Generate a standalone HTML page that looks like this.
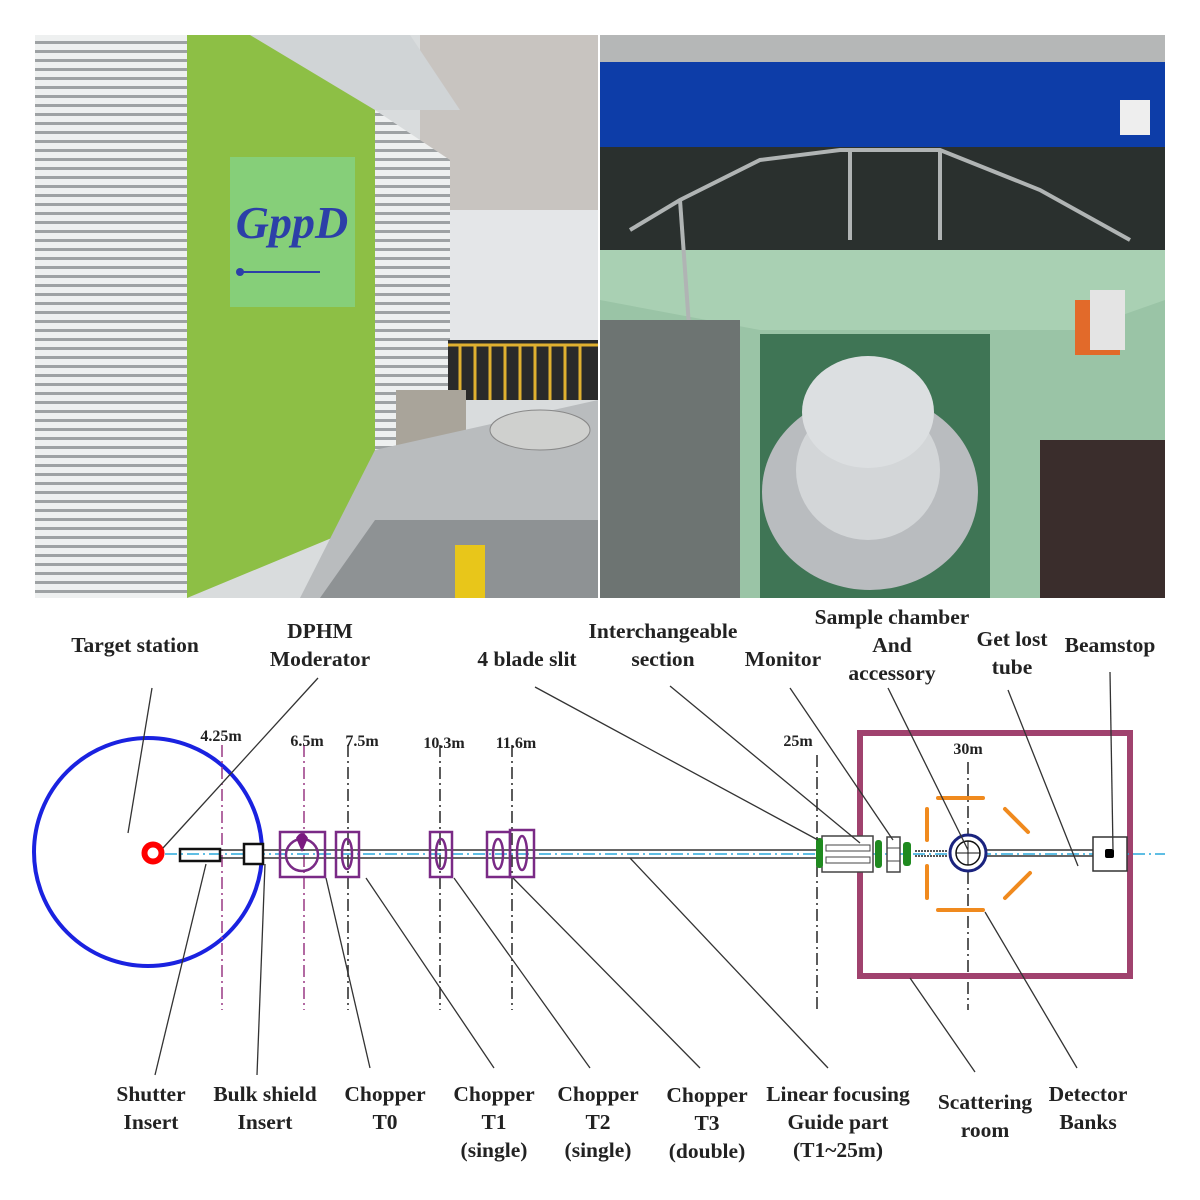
<!DOCTYPE html>
<html><head><meta charset="utf-8"><style>
html,body{margin:0;padding:0;background:#fff;}
svg{display:block}
text{font-family:"Liberation Serif",serif;font-weight:bold;font-size:21.5px;fill:#222;text-anchor:middle}
.s{font-size:16px}
</style></head><body>
<svg width="1200" height="1200" viewBox="0 0 1200 1200" xmlns="http://www.w3.org/2000/svg">
<defs>
<pattern id="lv" width="8" height="9" patternUnits="userSpaceOnUse"><rect width="8" height="9" fill="#eef0f0"/><rect y="5" width="8" height="3" fill="#9ea2a4"/></pattern>
<clipPath id="cl"><rect x="35" y="35" width="563" height="563"/></clipPath>
<clipPath id="cr"><rect x="600" y="35" width="565" height="563"/></clipPath>
</defs>
<g clip-path="url(#cl)">
<rect x="35" y="35" width="563" height="563" fill="#d9dcdd"/>
<rect x="420" y="35" width="178" height="180" fill="#c8c4c0"/>
<rect x="445" y="210" width="153" height="140" fill="#e4e6e8"/>
<rect x="35" y="35" width="152" height="563" fill="url(#lv)"/>
<polygon points="375,110 450,160 450,450 375,500" fill="url(#lv)"/>
<polygon points="187,35 375,35 375,520 187,598" fill="#8dbf45"/>
<polygon points="250,35 410,35 460,110 375,110" fill="#d0d4d6"/>
<rect x="230" y="157" width="125" height="150" fill="#86cf79"/>
<text x="292" y="238" style="font-size:46px;fill:#2c3fa8;font-style:italic">GppD</text>
<line x1="240" y1="272" x2="320" y2="272" stroke="#2c3fa8" stroke-width="2"/>
<circle cx="240" cy="272" r="4" fill="#2c3fa8"/>
<rect x="448" y="340" width="150" height="60" fill="#2a2a2a"/>
<g stroke="#e0b030" stroke-width="3"><line x1="448" y1="345" x2="598" y2="345"/><line x1="460" y1="345" x2="460" y2="400"/><line x1="475" y1="345" x2="475" y2="400"/><line x1="490" y1="345" x2="490" y2="400"/><line x1="505" y1="345" x2="505" y2="400"/><line x1="520" y1="345" x2="520" y2="400"/><line x1="535" y1="345" x2="535" y2="400"/><line x1="550" y1="345" x2="550" y2="400"/><line x1="565" y1="345" x2="565" y2="400"/><line x1="580" y1="345" x2="580" y2="400"/></g>
<rect x="396" y="390" width="70" height="58" fill="#a9a49a"/>
<polygon points="375,450 598,400 598,598 300,598" fill="#b9bcbe"/>
<ellipse cx="540" cy="430" rx="50" ry="20" fill="#cfd0ce" stroke="#888"/>
<polygon points="375,520 598,520 598,598 320,598" fill="#8e9294"/>
<rect x="455" y="545" width="30" height="53" fill="#e8c61a"/>
</g>
<g clip-path="url(#cr)">
<rect x="600" y="35" width="565" height="563" fill="#9ac4a6"/>
<rect x="600" y="35" width="565" height="35" fill="#b5b7b7"/>
<rect x="600" y="62" width="565" height="85" fill="#0d3da8"/>
<rect x="1120" y="100" width="30" height="35" fill="#eee"/>
<rect x="600" y="147" width="565" height="110" fill="#2a302e"/>
<polygon points="600,250 1165,250 1165,300 1080,330 760,330 600,300" fill="#a9d0b3"/>
<g stroke="#b0b4b4" stroke-width="4" fill="none"><path d="M630,230 L680,200 L760,160 L840,150 L940,150 L1040,190 L1130,240"/><line x1="680" y1="200" x2="690" y2="340"/><line x1="850" y1="150" x2="850" y2="240"/><line x1="940" y1="150" x2="940" y2="240"/></g>
<rect x="600" y="320" width="140" height="278" fill="#6d7472"/>
<rect x="760" y="334" width="230" height="264" fill="#3f7555"/>
<ellipse cx="870" cy="492" rx="108" ry="98" fill="#b9bcbf"/>
<ellipse cx="868" cy="470" rx="72" ry="70" fill="#d3d6d8"/>
<ellipse cx="868" cy="412" rx="66" ry="56" fill="#dcdfe1"/>
<rect x="1040" y="440" width="125" height="158" fill="#3a2d2c"/>
<rect x="1075" y="300" width="45" height="55" fill="#e26a2a"/>
<rect x="1090" y="290" width="35" height="60" fill="#e4e4e4"/>
</g>
<circle cx="148" cy="852" r="114" fill="none" stroke="#1a22e0" stroke-width="4"/>
<circle cx="153" cy="853" r="8.5" fill="none" stroke="#f00" stroke-width="6"/>
<g stroke-width="1.6" stroke-dasharray="12,4,2,4" fill="none">
<line x1="222" y1="745" x2="222" y2="1010" stroke="#a0458c"/>
<line x1="304" y1="745" x2="304" y2="1010" stroke="#a0458c"/>
<line x1="348" y1="745" x2="348" y2="1010" stroke="#333"/>
<line x1="440" y1="745" x2="440" y2="1010" stroke="#333"/>
<line x1="512" y1="745" x2="512" y2="1010" stroke="#333"/>
<line x1="817" y1="755" x2="817" y2="1010" stroke="#333"/>
<line x1="968" y1="762" x2="968" y2="1010" stroke="#333"/>
</g>
<rect x="860" y="733" width="270" height="243" fill="none" stroke="#a0426e" stroke-width="6"/>
<g stroke="#333" stroke-width="1.5" fill="none">
<line x1="220" y1="850" x2="820" y2="850"/><line x1="220" y1="858" x2="820" y2="858"/>
<line x1="985" y1="850" x2="1093" y2="850"/><line x1="985" y1="856" x2="1093" y2="856"/>
</g>
<line x1="165" y1="854" x2="1165" y2="854" stroke="#2aa8dc" stroke-width="1.5" stroke-dasharray="12,4,2,4"/>
<rect x="180" y="849" width="40" height="12" fill="none" stroke="#111" stroke-width="2.5"/>
<rect x="244" y="844" width="19" height="20" fill="#fff" stroke="#111" stroke-width="2.5"/>
<g stroke="#7a2a86" stroke-width="2.5" fill="none">
<rect x="280" y="832" width="45" height="45"/><circle cx="302" cy="855" r="16"/>
<rect x="336" y="832" width="23" height="45"/><ellipse cx="347" cy="854" rx="5" ry="15"/>
<rect x="430" y="832" width="22" height="45"/><ellipse cx="441" cy="854" rx="5" ry="15"/>
<rect x="487" y="832" width="23" height="45"/><ellipse cx="498" cy="854" rx="5" ry="15"/>
<rect x="510" y="830" width="24" height="47"/><ellipse cx="522" cy="853" rx="5" ry="17"/>
</g>
<path d="M296,838 Q302,828 308,838 L302,852 Z" fill="#7a1a80"/>
<rect x="822" y="836" width="51" height="36" fill="#fff" stroke="#444" stroke-width="1.5"/>
<rect x="826" y="845" width="44" height="6" fill="none" stroke="#444"/><rect x="826" y="857" width="44" height="6" fill="none" stroke="#444"/>
<rect x="816" y="838" width="7" height="30" rx="3" fill="#1f8a1f"/>
<rect x="875" y="840" width="7" height="28" rx="3" fill="#1f8a1f"/>
<rect x="887" y="837" width="13" height="35" fill="#fff" stroke="#444" stroke-width="1.5"/>
<line x1="887" y1="848" x2="900" y2="848" stroke="#444"/><line x1="887" y1="861" x2="900" y2="861" stroke="#444"/>
<rect x="903" y="842" width="8" height="24" rx="3" fill="#1f8a1f"/>
<line x1="915" y1="851" x2="948" y2="851" stroke="#555" stroke-width="2" stroke-dasharray="2,1"/>
<line x1="915" y1="856" x2="948" y2="856" stroke="#555" stroke-width="2" stroke-dasharray="2,1"/>
<circle cx="968" cy="853" r="18" fill="#fff" stroke="#1a237e" stroke-width="3"/>
<circle cx="968" cy="853" r="12" fill="none" stroke="#111" stroke-width="1.5"/>
<line x1="956" y1="853" x2="980" y2="853" stroke="#111"/><line x1="968" y1="841" x2="968" y2="865" stroke="#111"/>
<rect x="1093" y="837" width="34" height="34" fill="#fff" stroke="#333" stroke-width="1.5"/>
<rect x="1105" y="849" width="9" height="9" rx="2" fill="#000"/>
<g stroke="#f08a1e" stroke-width="4" stroke-linecap="round">
<line x1="938" y1="798" x2="983" y2="798"/><line x1="938" y1="910" x2="983" y2="910"/>
<line x1="927" y1="809" x2="927" y2="840"/><line x1="927" y1="866" x2="927" y2="898"/>
<line x1="1005" y1="809" x2="1028" y2="832"/><line x1="1005" y1="898" x2="1030" y2="873"/>
</g>
<g stroke="#333" stroke-width="1.3">
<line x1="152" y1="688" x2="128" y2="833"/>
<line x1="318" y1="678" x2="163" y2="848"/>
<line x1="535" y1="687" x2="818" y2="840"/>
<line x1="670" y1="686" x2="860" y2="843"/>
<line x1="790" y1="688" x2="893" y2="840"/>
<line x1="888" y1="688" x2="968" y2="850"/>
<line x1="1008" y1="690" x2="1078" y2="866"/>
<line x1="1110" y1="672" x2="1113" y2="850"/>
<line x1="155" y1="1075" x2="206" y2="864"/>
<line x1="257" y1="1075" x2="265" y2="864"/>
<line x1="370" y1="1068" x2="326" y2="878"/>
<line x1="494" y1="1068" x2="366" y2="878"/>
<line x1="590" y1="1068" x2="454" y2="878"/>
<line x1="700" y1="1068" x2="513" y2="878"/>
<line x1="828" y1="1068" x2="630" y2="858"/>
<line x1="975" y1="1072" x2="910" y2="978"/>
<line x1="1077" y1="1068" x2="985" y2="912"/>
</g>
<text x="135" y="652">Target station</text>
<text x="320" y="638">DPHM</text><text x="320" y="666">Moderator</text>
<text x="527" y="666">4 blade slit</text>
<text x="663" y="638">Interchangeable</text><text x="663" y="666">section</text>
<text x="783" y="666">Monitor</text>
<text x="892" y="624">Sample chamber</text><text x="892" y="652">And</text><text x="892" y="680">accessory</text>
<text x="1012" y="646">Get lost</text><text x="1012" y="674">tube</text>
<text x="1110" y="652">Beamstop</text>
<text class="s" x="221" y="741">4.25m</text>
<text class="s" x="307" y="746">6.5m</text>
<text class="s" x="362" y="746">7.5m</text>
<text class="s" x="444" y="748">10.3m</text>
<text class="s" x="516" y="748">11.6m</text>
<text class="s" x="798" y="746">25m</text>
<text class="s" x="968" y="754">30m</text>
<text x="151" y="1101">Shutter</text><text x="151" y="1129">Insert</text>
<text x="265" y="1101">Bulk shield</text><text x="265" y="1129">Insert</text>
<text x="385" y="1101">Chopper</text><text x="385" y="1129">T0</text>
<text x="494" y="1101">Chopper</text><text x="494" y="1129">T1</text><text x="494" y="1157">(single)</text>
<text x="598" y="1101">Chopper</text><text x="598" y="1129">T2</text><text x="598" y="1157">(single)</text>
<text x="707" y="1102">Chopper</text><text x="707" y="1130">T3</text><text x="707" y="1158">(double)</text>
<text x="838" y="1101">Linear focusing</text><text x="838" y="1129">Guide part</text><text x="838" y="1157">(T1~25m)</text>
<text x="985" y="1109">Scattering</text><text x="985" y="1137">room</text>
<text x="1088" y="1101">Detector</text><text x="1088" y="1129">Banks</text>
</svg>
</body></html>
